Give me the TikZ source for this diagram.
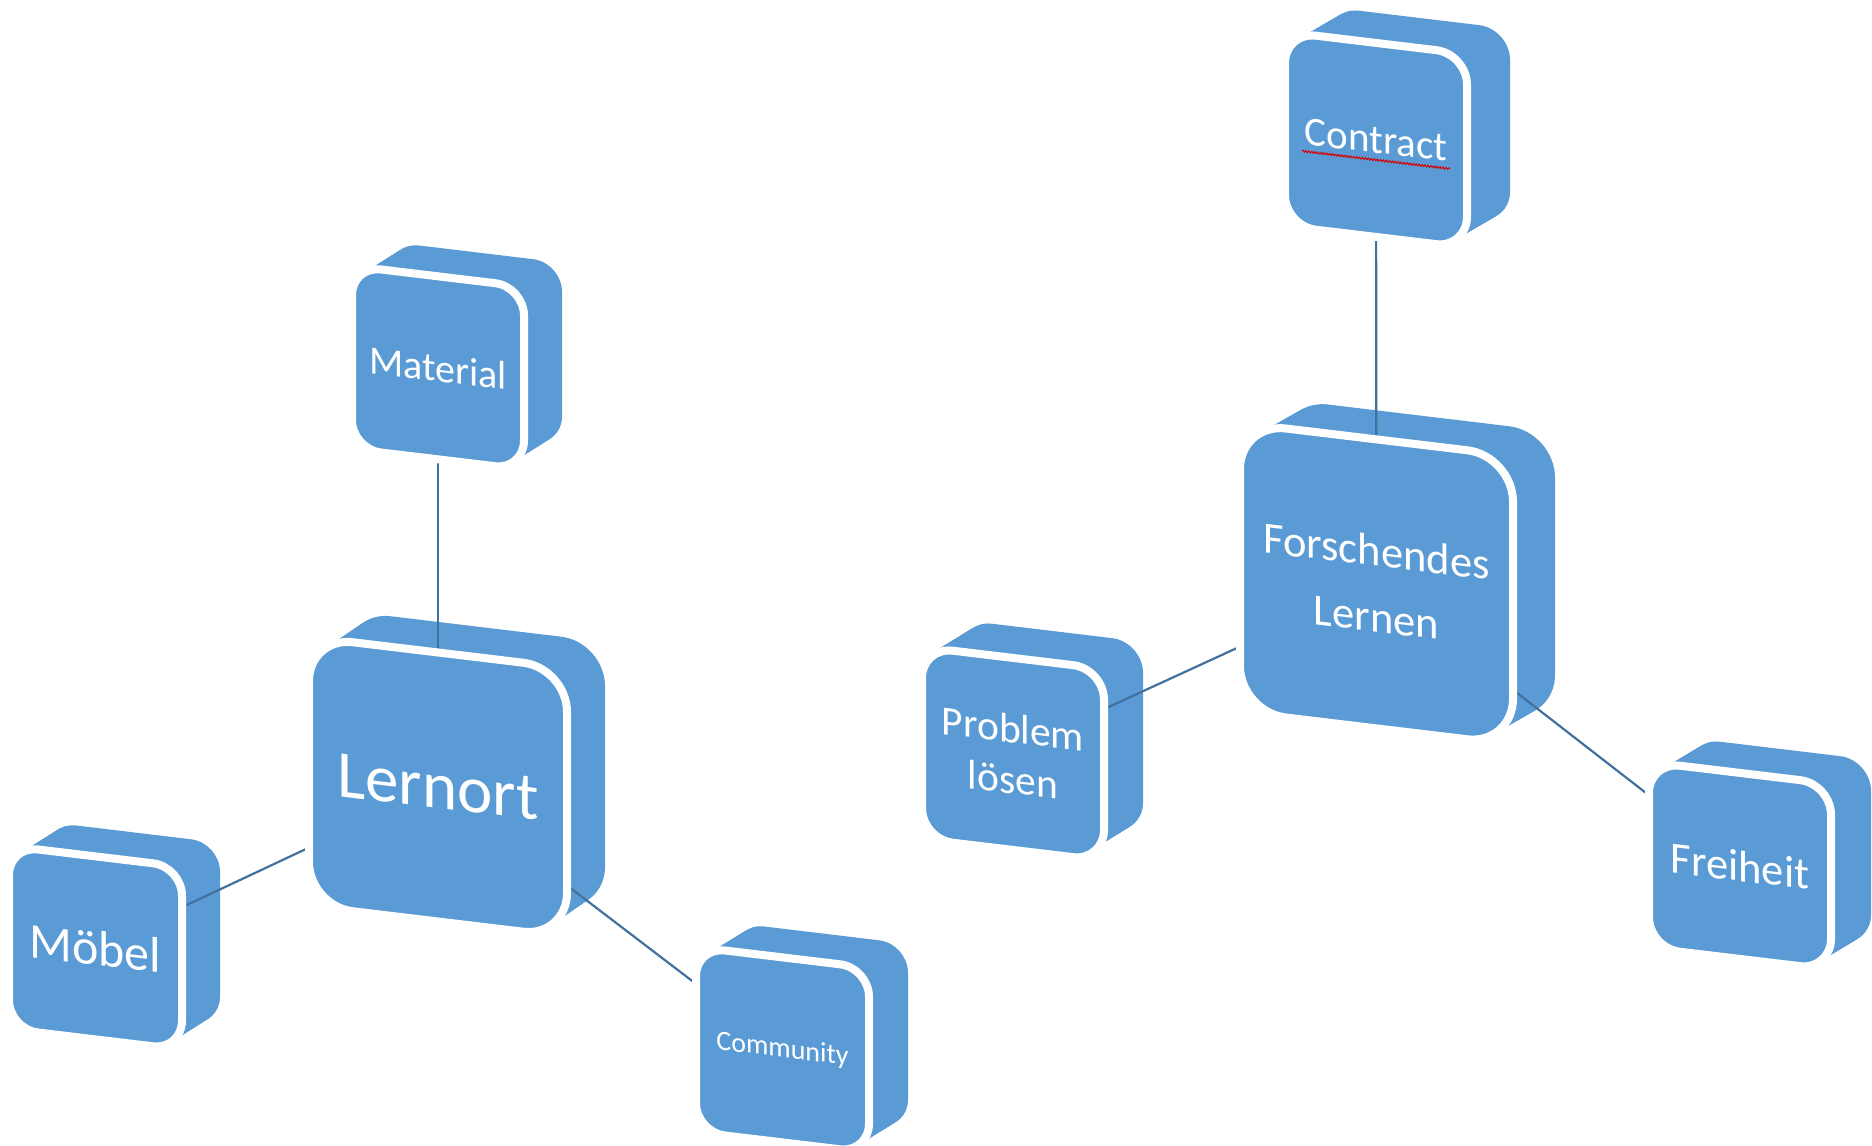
\documentclass[tikz,border=0pt]{standalone}
\usepackage{fontspec}
\setmainfont{Carlito}
\usetikzlibrary{decorations.pathmorphing}

\definecolor{boxblue}{HTML}{5B9BD5}
\definecolor{linkblue}{HTML}{41719C}

\tikzset{
  link/.style={draw=linkblue, line width=2.2pt},
  facelabel/.style={text=white, align=center, inner sep=0pt, transform shape},
  spellmark/.style={draw=red!85!black, line width=1pt, decorate,
    decoration={snake, amplitude=0.9pt, segment length=3pt}},
}

% Extruded body of a rounded cube: the face outline swept along (dx,dy).
% #1 name, #2 left, #3 top, #4 width, #5 height, #6 dx, #7 dy, #8 corner radius
\newcommand\cubebody[8]{%
  \coordinate (#1) at ({#2+#4/2},{#3+#5/2+0.06*#4});
  \foreach \k in {0,...,30}{%
    \begin{scope}[shift={({#2+#6*\k/30},{#3+#7*\k/30})}, yslant=-0.12]
      \fill[boxblue, rounded corners=#8pt] (0,0) rectangle (#4,#5);
    \end{scope}}%
}

% Front face with white rim and its label.
% #1 name, #2 left, #3 top, #4 width, #5 height, #6 corner radius,
% #7 font size, #8 line spacing, #9 text
\newcommand\cubefront[9]{%
  \begin{scope}[shift={(#2,#3)}, yslant=-0.12]
    \filldraw[fill=boxblue, draw=white, line width=8pt, rounded corners=#6pt]
      (0,0) rectangle (#4,#5);
    \node[facelabel, font={\fontsize{#7}{#8}\selectfont}] (#1-text)
      at ({#4/2},{#5/2}) {#9};
  \end{scope}%
}

\begin{document}
\begin{tikzpicture}[x=1pt,y=-1pt]
\fill[white] (0,0) rectangle (1872,1146);
\useasboundingbox (0,0) rectangle (1872,1146);

% bodies
\cubebody{material}{352}{266}{172}{183}{38}{-24}{29}
\cubebody{lernort}{309}{637}{258}{269}{38}{-26}{44}
\cubebody{moebel}{9}{846}{173}{183}{38}{-24}{29}
\cubebody{community}{696}{947}{173}{185}{39}{-24}{29}
\cubebody{contract}{1285}{32}{182}{194}{43}{-25}{31}
\cubebody{forschen}{1240}{423}{273}{289}{42}{-24}{46}
\cubebody{problem}{922}{644}{182}{192}{39}{-24}{31}
\begin{scope}
  \clip (1600,600) rectangle (1872,963);
  \cubebody{freiheit}{1649}{762}{182}{186}{40}{-24}{31}
\end{scope}

% connectors
\draw[link] (material) -- (lernort);
\draw[link] (lernort) -- (moebel);
\draw[link] (lernort) -- (community);
\draw[link] (contract) -- (forschen);
\draw[link] (forschen) -- (problem);
\draw[link] (forschen) -- (freiheit);

% front faces
\cubefront{material}{352}{266}{172}{183}{29}{40}{58}{Material}
\cubefront{lernort}{309}{637}{258}{269}{44}{67}{80}{Lernort}
\cubefront{moebel}{9}{846}{173}{183}{29}{50}{60}{Möbel}
\cubefront{community}{696}{947}{173}{185}{29}{28}{34}{Community}
\cubefront{contract}{1285}{32}{182}{194}{31}{41}{50}{Contract}
\cubefront{forschen}{1240}{423}{273}{289}{46}{44.5}{66}{Forschendes\\Lernen}
\cubefront{problem}{922}{647}{182}{192}{31}{41.5}{51}{Problem\\lösen}
\begin{scope}
  \clip (1600,600) rectangle (1872,963);
  \cubefront{freiheit}{1649}{762}{182}{186}{31}{44.5}{54}{Freiheit}
\end{scope}

% wavy underline under "Contract"
\begin{scope}[shift={(1285,32)}, yslant=-0.12]
  \coordinate (uline-a) at (17,117);
  \coordinate (uline-b) at (165,117);
  \draw[spellmark] (uline-a) -- (uline-b);
\end{scope}
\end{tikzpicture}
\end{document}
